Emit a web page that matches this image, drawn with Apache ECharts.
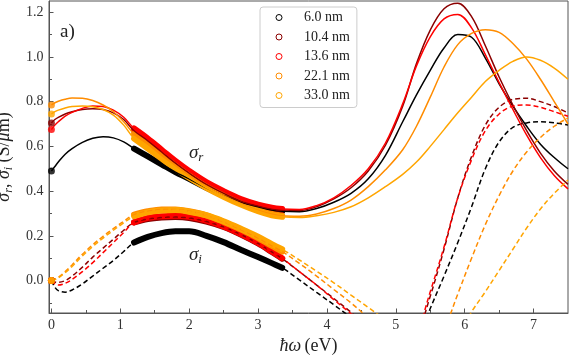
<!DOCTYPE html>
<html>
<head>
<meta charset="utf-8">
<script src="https://cdn.jsdelivr.net/npm/echarts@6/dist/echarts.min.js"></script>
<style>
  html, body { margin: 0; padding: 0; background: #fff; }
  #chart { width: 569px; height: 356px; }
</style>
</head>
<body>
<div id="chart"></div>
<script>
// photon energy grid (eV) shared by all curves
const energy = [0, 0.05, 0.1, 0.2, 0.3, 0.45, 0.6, 0.75, 0.9, 1.05,
  1.2, 1.4, 1.6, 1.8, 2.0, 2.25, 2.5, 2.75, 3.0, 3.2,
  3.35, 3.6, 3.85, 4.1, 4.35, 4.6, 4.85, 5.1, 5.3, 5.5,
  5.7, 5.9, 6.1, 6.3, 6.5, 6.7, 6.9, 7.1, 7.3, 7.5]

const sizes = ['6.0 nm', '10.4 nm', '13.6 nm', '22.1 nm', '33.0 nm']

// real part sigma_r (S/um)
const sigR_60 = [0.49, 0.51, 0.53, 0.565, 0.59, 0.618, 0.636, 0.643, 0.638, 0.62,
  0.59, 0.555, 0.52, 0.485, 0.455, 0.415, 0.38, 0.35, 0.33, 0.315,
  0.31, 0.308, 0.322, 0.35, 0.39, 0.455, 0.56, 0.71, 0.83, 0.94,
  1.04, 1.1, 1.088, 0.995, 0.88, 0.78, 0.69, 0.61, 0.55, 0.50]
const sigR_104 = [0.705, 0.72, 0.73, 0.745, 0.755, 0.765, 0.768, 0.765, 0.75, 0.72,
  0.67, 0.625, 0.575, 0.525, 0.48, 0.43, 0.39, 0.355, 0.333, 0.32,
  0.315, 0.313, 0.33, 0.365, 0.415, 0.49, 0.605, 0.78, 0.97, 1.12,
  1.215, 1.24, 1.18, 1.05, 0.91, 0.785, 0.67, 0.57, 0.49, 0.43]
const sigR_136 = [0.675, 0.695, 0.71, 0.735, 0.752, 0.77, 0.78, 0.778, 0.762, 0.73,
  0.68, 0.635, 0.585, 0.535, 0.49, 0.44, 0.40, 0.365, 0.34, 0.326,
  0.32, 0.318, 0.335, 0.37, 0.425, 0.5, 0.615, 0.79, 0.96, 1.09,
  1.17, 1.19, 1.13, 1.01, 0.885, 0.765, 0.65, 0.55, 0.47, 0.41]
const sigR_221 = [0.785, 0.795, 0.802, 0.811, 0.816, 0.815, 0.805, 0.785, 0.755, 0.71,
  0.655, 0.61, 0.56, 0.515, 0.47, 0.42, 0.38, 0.345, 0.315, 0.298,
  0.29, 0.288, 0.298, 0.322, 0.36, 0.42, 0.495, 0.585, 0.69, 0.82,
  0.955, 1.055, 1.105, 1.122, 1.11, 1.06, 0.99, 0.90, 0.80, 0.70]
const sigR_330 = [0.745, 0.755, 0.762, 0.772, 0.778, 0.781, 0.777, 0.765, 0.74, 0.695,
  0.635, 0.59, 0.545, 0.50, 0.46, 0.415, 0.375, 0.34, 0.31, 0.292,
  0.285, 0.282, 0.29, 0.305, 0.33, 0.37, 0.42, 0.475, 0.53, 0.60,
  0.675, 0.75, 0.82, 0.89, 0.94, 0.98, 1.0, 0.985, 0.95, 0.90]

// imaginary part sigma_i (S/um)
const sigI_60 = [0.0, -0.03, -0.045, -0.052, -0.042, -0.015, 0.02, 0.055, 0.09, 0.13,
  0.17, 0.195, 0.212, 0.22, 0.22, 0.2, 0.172, 0.138, 0.105, 0.078,
  0.057, 0.003, -0.053, -0.108, -0.165, -0.22, -0.28, -0.33, -0.28, -0.125,
  0.02, 0.17, 0.33, 0.5, 0.62, 0.685, 0.705, 0.71, 0.705, 0.696]
const sigI_104 = [0.0, -0.006, -0.008, 0.0, 0.02, 0.06, 0.105, 0.145, 0.185, 0.225,
  0.26, 0.275, 0.282, 0.284, 0.28, 0.264, 0.24, 0.206, 0.166, 0.128,
  0.098, 0.04, -0.02, -0.08, -0.142, -0.21, -0.28, -0.33, -0.25, -0.07,
  0.14, 0.37, 0.555, 0.695, 0.775, 0.81, 0.815, 0.8, 0.778, 0.75]
const sigI_136 = [0.0, -0.015, -0.02, -0.012, 0.005, 0.04, 0.08, 0.125, 0.17, 0.215,
  0.26, 0.28, 0.288, 0.29, 0.285, 0.268, 0.242, 0.208, 0.168, 0.13,
  0.1, 0.04, -0.02, -0.085, -0.148, -0.21, -0.28, -0.33, -0.24, -0.05,
  0.15, 0.37, 0.54, 0.67, 0.745, 0.78, 0.785, 0.775, 0.755, 0.735]
const sigI_221 = [0.0, 0.006, 0.015, 0.04, 0.07, 0.118, 0.16, 0.198, 0.232, 0.265,
  0.295, 0.31, 0.318, 0.318, 0.31, 0.292, 0.262, 0.228, 0.19, 0.155,
  0.13, 0.077, 0.02, -0.04, -0.1, -0.165, -0.22, -0.27, -0.3, -0.32,
  -0.22, -0.06, 0.1, 0.25, 0.38, 0.49, 0.575, 0.64, 0.69, 0.727]
const sigI_330 = [0.0, 0.004, 0.012, 0.035, 0.063, 0.11, 0.152, 0.19, 0.225, 0.258,
  0.288, 0.305, 0.313, 0.315, 0.308, 0.292, 0.265, 0.232, 0.196, 0.163,
  0.14, 0.092, 0.042, -0.01, -0.065, -0.12, -0.175, -0.23, -0.27, -0.3,
  -0.31, -0.25, -0.14, -0.05, 0.045, 0.14, 0.235, 0.32, 0.39, 0.45]

// energy window of the measured points
const measuredFrom = 1.2
const measuredTo = 3.35

const xTicks = [0, 1, 2, 3, 4, 5, 6, 7]
const xMinor = [0.5, 1.5, 2.5, 3.5, 4.5, 5.5, 6.5]
const yTicks = [0, 0.2, 0.4, 0.6, 0.8, 1.0, 1.2]
const yMinor = [-0.1, 0.1, 0.3, 0.5, 0.7, 0.9, 1.1]

const colors = ['#000000', '#8b0000', '#ff0000', '#ff8c00', '#ffa500']
const sigR = [sigR_60, sigR_104, sigR_136, sigR_221, sigR_330]
const sigI = [sigI_60, sigI_104, sigI_136, sigI_221, sigI_330]
const serif = "'Liberation Serif', 'DejaVu Serif', serif"

function pairs(ys, from, to) {
  return energy.map((e, i) => [e, ys[i]]).filter(p => p[0] >= from && p[0] <= to)
}

const series = []
sizes.forEach((name, k) => {
  // measured data, drawn as a dense thick trace
  ;[sigR[k], sigI[k]].forEach(ys => {
    series.push({
      type: 'line', name, data: pairs(ys, measuredFrom, measuredTo),
      showSymbol: false, smooth: 0.35, z: 2,
      lineStyle: { color: colors[k], width: 6, cap: 'round' }
    })
  })
})
sizes.forEach((name, k) => {
  series.push({
    type: 'line', name, data: pairs(sigR[k], 0, 8),
    showSymbol: false, smooth: 0.35, z: 3,
    lineStyle: { color: colors[k], width: 1.5 }
  })
  series.push({
    type: 'line', name, data: pairs(sigI[k], 0, 8),
    showSymbol: false, smooth: 0.35, z: 3,
    lineStyle: { color: colors[k], width: 1.5, type: [5, 3] }
  })
})
sizes.forEach((name, k) => {
  series.push({
    type: 'scatter', name, z: 4, symbolSize: 7,
    data: [[energy[0], sigR[k][0]], [energy[0], sigI[k][0]]],
    itemStyle: { color: colors[k] }
  })
})

const myChart = echarts.init(document.getElementById('chart'))
const option = {
  animation: false,
  grid: {
    left: 49, right: 1, top: 1, bottom: 43, containLabel: false, outerBoundsMode: 'none',
    show: true, borderColor: '#555', borderWidth: 1
  },
  legend: {
    orient: 'vertical', left: 260, top: 7,
    padding: [2.5, 7, 4, 15.5], itemGap: 3.5, itemWidth: 6, itemHeight: 6,
    backgroundColor: '#fff', borderColor: '#ccc', borderWidth: 1, borderRadius: 3,
    selectedMode: false,
    textStyle: { fontFamily: serif, fontSize: 14, color: '#222', lineHeight: 16, padding: [0, 0, 0, 17] },
    data: sizes.map((s, k) => ({
      name: s, icon: 'circle',
      itemStyle: { color: '#fff', borderColor: colors[k], borderWidth: 1 }
    }))
  },
  xAxis: [{
    type: 'value', min: -0.035, max: 7.5,
    axisLine: { onZero: false, lineStyle: { color: '#555', width: 1 } },
    axisTick: { inside: true, length: 4.5, customValues: xTicks, lineStyle: { color: '#555' } },
    axisLabel: { customValues: xTicks, margin: 5, fontFamily: serif, fontSize: 14, color: '#333' },
    splitLine: { show: false },
    name: '{i|ħω} {n|(eV)}', nameLocation: 'middle', nameGap: 22,
    nameTextStyle: {
      rich: {
        i: { fontFamily: serif, fontStyle: 'italic', fontSize: 18, color: '#222' },
        n: { fontFamily: serif, fontSize: 18, color: '#222' }
      }
    }
  }, {
    // minor ticks, moved onto the bottom edge
    type: 'value', min: -0.035, max: 7.5, position: 'top', offset: -312,
    axisLine: { show: false, onZero: false },
    axisTick: { inside: false, length: 3, customValues: xMinor, lineStyle: { color: '#555' } },
    axisLabel: { show: false }, splitLine: { show: false }
  }],
  yAxis: [{
    type: 'value', min: -0.145, max: 1.25,
    axisLine: { onZero: false, lineStyle: { color: '#555', width: 1 } },
    axisTick: { inside: true, length: 4.5, customValues: yTicks, lineStyle: { color: '#555' } },
    axisLabel: {
      customValues: yTicks, margin: 5.5, fontFamily: serif, fontSize: 14, color: '#333',
      formatter: v => v.toFixed(1)
    },
    splitLine: { show: false },
    name: '{i|σ}{s|r}{n|, }{i|σ}{s|i}{n| (S/}{i|μ}{n|m)}', nameLocation: 'middle', nameGap: 30,
    nameTextStyle: {
      rich: {
        i: { fontFamily: serif, fontStyle: 'italic', fontSize: 18, color: '#222' },
        s: { fontFamily: serif, fontStyle: 'italic', fontSize: 12, color: '#222', padding: [9, 0, 0, 0] },
        n: { fontFamily: serif, fontSize: 18, color: '#222' }
      }
    }
  }, {
    // minor ticks, moved onto the left edge
    type: 'value', min: -0.145, max: 1.25, position: 'right', offset: -519,
    axisLine: { show: false, onZero: false },
    axisTick: { inside: false, length: 3, customValues: yMinor, lineStyle: { color: '#555' } },
    axisLabel: { show: false }, splitLine: { show: false }
  }],
  graphic: [
    { type: 'text', x: 60, y: 32, style: { text: 'a)', fontFamily: serif, fontSize: 19, fill: '#222', verticalAlign: 'middle' } },
    {
      type: 'text', x: 189, y: 153,
      style: {
        text: '{g|σ}{s|r}', verticalAlign: 'middle', fill: '#222',
        rich: {
          g: { fontFamily: serif, fontStyle: 'italic', fontSize: 19 },
          s: { fontFamily: serif, fontStyle: 'italic', fontSize: 13, padding: [9, 0, 0, 0] }
        }
      }
    },
    {
      type: 'text', x: 189, y: 255,
      style: {
        text: '{g|σ}{s|i}', verticalAlign: 'middle', fill: '#222',
        rich: {
          g: { fontFamily: serif, fontStyle: 'italic', fontSize: 19 },
          s: { fontFamily: serif, fontStyle: 'italic', fontSize: 13, padding: [9, 0, 0, 0] }
        }
      }
    }
  ],
  series
}
myChart.setOption(option)
</script>
</body>
</html>
